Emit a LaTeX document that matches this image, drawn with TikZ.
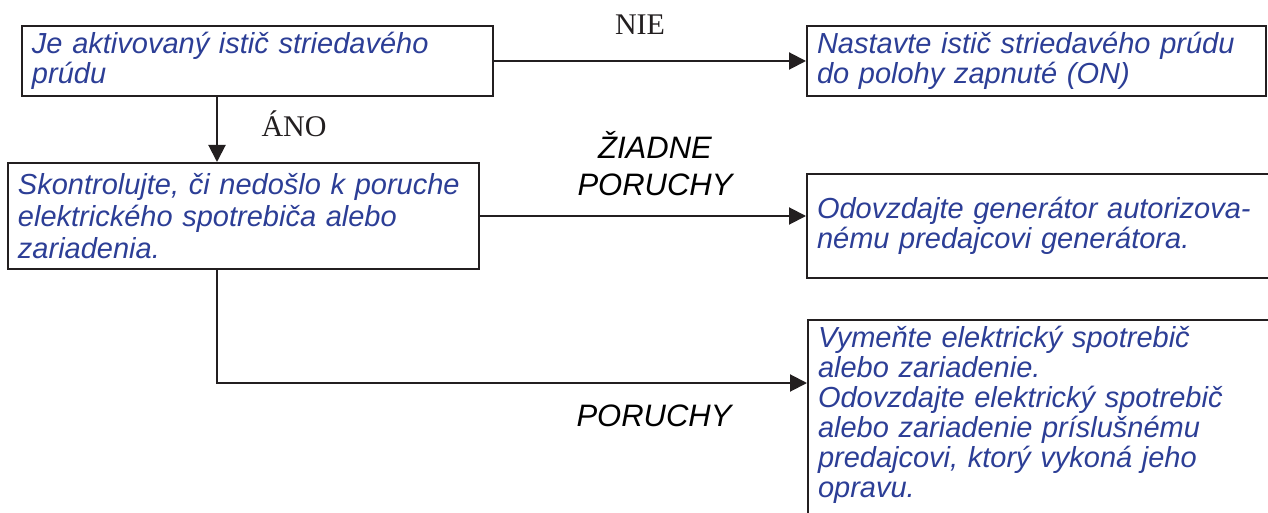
\documentclass[tikz,border=0pt]{standalone}
\usepackage{fontspec}
\setmainfont{Liberation Serif}
\newfontfamily\arialfont{Liberation Sans}
\usetikzlibrary{positioning,arrows.meta}
\definecolor{txtblue}{RGB}{44,62,150}
\definecolor{linegray}{RGB}{35,31,32}

\begin{document}
\begin{tikzpicture}[x=0.5pt,y=-0.5pt,>={Triangle[length=8.5pt,width=8.5pt]},
  box/.style={draw=linegray,line width=1pt,rectangle,align=left,inner xsep=5pt,inner ysep=3pt,
    font=\arialfont\itshape\fontsize{14.5pt}{15pt}\selectfont,text=txtblue},
  lbl/.style={font=\fontsize{15pt}{18pt}\selectfont,text=linegray},
  ilbl/.style={font=\arialfont\itshape\fontsize{15.5pt}{18.5pt}\selectfont,align=center,text=black},
  arr/.style={->,draw=linegray,line width=1pt}]
\useasboundingbox (0,0) rectangle (1268,513);

% boxes
\node[box,text width=225.5pt,minimum height=32pt] (q1) at (257.5,61) {Je aktivovaný istič striedavého\\prúdu};
\node[box,text width=219.5pt,minimum height=32pt] (act1) at (1036.5,61) {Nastavte istič striedavého prúdu\\do polohy zapnuté (ON)};
\node[box,text width=225.5pt,minimum height=53pt,font=\arialfont\itshape\fontsize{14.5pt}{16pt}\selectfont] (chk) at (243.5,216) {Skontrolujte, či nedošlo k poruche\\elektrického spotrebiča alebo\\zariadenia.};
\node[box,text width=224pt,minimum height=52pt] (act2) at (1041,226) {Odovzdajte generátor autorizova-\\nému predajcovi generátora.};
\node[box,text width=224pt,anchor=north west,text depth=95pt] (act3) at (807,319) {Vymeňte elektrický spotrebič\\alebo zariadenie.\\Odovzdajte elektrický spotrebič\\alebo zariadenie príslušnému\\predajcovi, ktorý vykoná jeho\\opravu.};

% labels
\node[lbl] (nie) at (640,25) {NIE};
\node[lbl] (ano) at (294,124) {ÁNO};
\node[ilbl] (ok) at (655,164) {ŽIADNE\\PORUCHY};
\node[ilbl] (fault) at (654,416) {PORUCHY};

% connectors
\draw[arr] (q1) -- (act1);
\draw[arr] ([xshift=-20.25pt]q1.south) -- ([xshift=-20.25pt]q1.south |- chk.north);
\draw[arr] (chk.east) -- (chk.east -| act2.west);
\coordinate (bend) at (217,383);
\draw[arr] (chk.south -| bend) -- (bend) -- (bend -| act3.west);
\end{tikzpicture}
\end{document}
